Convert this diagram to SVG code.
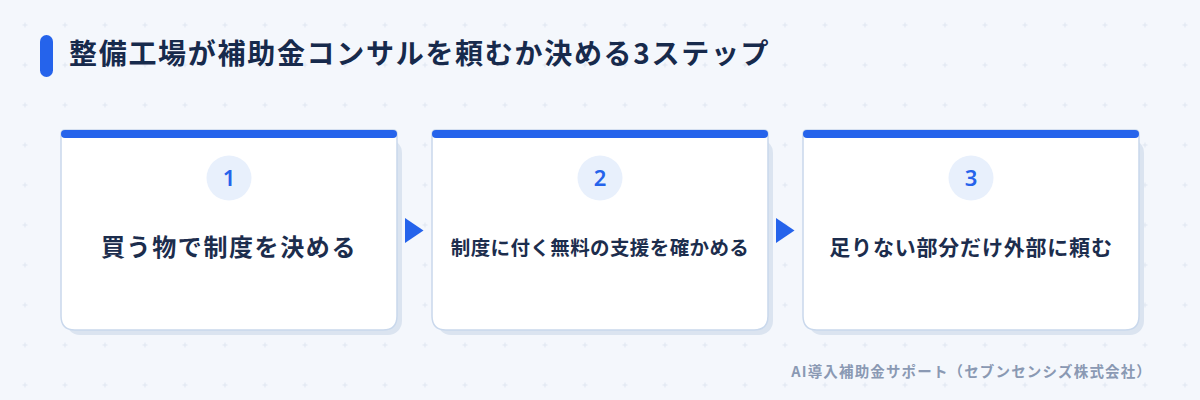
<svg xmlns="http://www.w3.org/2000/svg" width="1200" height="400" viewBox="0 0 1200 400">
<defs>
<pattern id="grid" x="0" y="0" width="40" height="40" patternUnits="userSpaceOnUse">
<path d="M22.5 25h5M25 22.5v5" stroke="#dfe6f1" stroke-width="1"/>
</pattern>
<style>
.jp{font-family:"Noto Sans CJK JP","Noto Sans",sans-serif}
.title{font-size:28px;font-weight:700;fill:#172a4c;letter-spacing:1.7px}
.shadow{fill:#dbe4f0}
.card{fill:#ffffff;stroke:#c9d8ec;stroke-width:1.5}
.bar{fill:#2563eb}
.badge{fill:#e8f0fc}
.num{font-family:"Noto Sans","Noto Sans CJK JP",sans-serif;font-size:22px;font-weight:600;fill:#2563eb;text-anchor:middle}
.label{font-weight:700;fill:#1c2d4d;text-anchor:middle}
.arrow{fill:#2563eb}
.foot{font-size:14.5px;font-weight:700;fill:#8a99b3;text-anchor:end;letter-spacing:1.15px}
</style>
</defs>
<rect width="1200" height="400" fill="#f4f7fc"/>
<rect width="1200" height="400" fill="url(#grid)"/>

<g id="title">
<rect x="40" y="35" width="13" height="42" rx="6.5" fill="#2563eb"/>
<text class="jp title" x="69" y="64">整備工場が補助金コンサルを頼むか決める3ステップ</text>
</g>

<g id="step1">
<rect class="shadow" x="66" y="139" width="336" height="196" rx="14"/>
<path class="card" d="M61 134 Q61 130 65 130 H393 Q397 130 397 134 V316 Q397 330 383 330 H75 Q61 330 61 316 Z"/>
<rect class="bar" x="61" y="130" width="336" height="8" rx="4"/>
<circle class="badge" cx="229" cy="178" r="22.5"/>
<text class="num" x="229" y="186">1</text>
<text class="jp label" x="229" y="256" font-size="24" letter-spacing="1.6">買う物で制度を決める</text>
</g>

<g id="step2">
<rect class="shadow" x="437" y="139" width="336" height="196" rx="14"/>
<path class="card" d="M432 134 Q432 130 436 130 H764 Q768 130 768 134 V316 Q768 330 754 330 H446 Q432 330 432 316 Z"/>
<rect class="bar" x="432" y="130" width="336" height="8" rx="4"/>
<circle class="badge" cx="600" cy="178" r="22.5"/>
<text class="num" x="600" y="186">2</text>
<text class="jp label" x="600" y="255" font-size="19.5" letter-spacing="0.4">制度に付く無料の支援を確かめる</text>
</g>

<g id="step3">
<rect class="shadow" x="808" y="139" width="336" height="196" rx="14"/>
<path class="card" d="M803 134 Q803 130 807 130 H1135 Q1139 130 1139 134 V316 Q1139 330 1125 330 H817 Q803 330 803 316 Z"/>
<rect class="bar" x="803" y="130" width="336" height="8" rx="4"/>
<circle class="badge" cx="971" cy="178" r="22.5"/>
<text class="num" x="971" y="186">3</text>
<text class="jp label" x="971" y="255" font-size="21" letter-spacing="0.8">足りない部分だけ外部に頼む</text>
</g>

<g id="connectors">
<polygon class="arrow" points="405,218 405,243 423.5,230.5"/>
<polygon class="arrow" points="776,218 776,243 794.5,230.5"/>
</g>

<text class="jp foot" x="1152" y="377">AI導入補助金サポート（セブンセンシズ株式会社）</text>
</svg>
